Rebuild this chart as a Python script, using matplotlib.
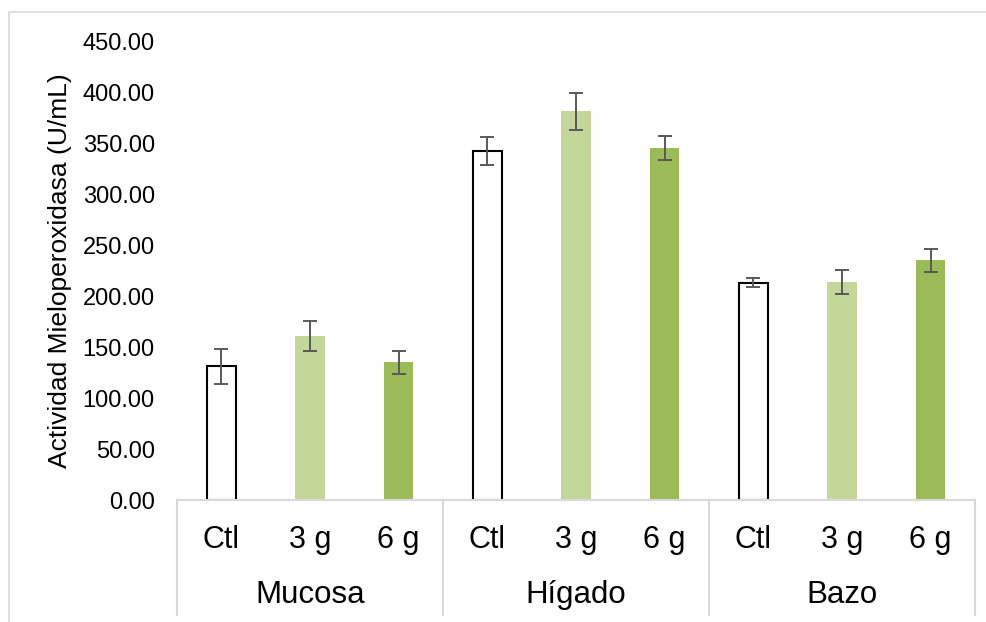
import matplotlib
matplotlib.use("Agg")
import matplotlib.pyplot as plt
from matplotlib.lines import Line2D
from matplotlib.patches import Rectangle

# data
groups = ["Mucosa", "Hígado", "Bazo"]
doses = ["Ctl", "3 g", "6 g"]
mucosa = [131.0, 161.0, 135.0]
higado = [342.0, 381.0, 345.0]
bazo = [213.0, 214.0, 235.0]
mucosa_err = [17.0, 14.5, 11.0]
higado_err = [13.5, 18.0, 11.5]
bazo_err = [4.5, 12.0, 11.0]
yticks = [0, 50, 100, 150, 200, 250, 300, 350, 400, 450]

plt.rcParams['font.family'] = ['Liberation Sans', 'DejaVu Sans']

fig = plt.figure(figsize=(9.86, 6.22), dpi=100)
ax = fig.add_axes([0.1795, 0.1961, 0.8093, 0.7379])

values = mucosa + higado + bazo
errors = mucosa_err + higado_err + bazo_err
x = list(range(len(values)))

fills = ["white", "#C4D79B", "#9BBB59"] * 3
edges = ["black", "#C4D79B", "#9BBB59"] * 3
lws = [1.5, 0, 0] * 3

ax.bar(x, values, width=0.33, color=fills, edgecolor=edges, linewidth=lws, zorder=2)
ax.errorbar(x, values, yerr=errors, fmt="none", ecolor="#595959",
            elinewidth=1.4, capsize=4.8, capthick=1.4, zorder=3)

ax.set_xlim(-0.5, len(values) - 0.5)
ax.set_ylim(0, 450)
ax.set_yticks(yticks)
ax.set_yticklabels([f"{v:.2f}" for v in yticks], fontsize=17)
ax.tick_params(axis="y", length=0, pad=16)
ax.set_xticks([])
for s in ["top", "right", "left"]:
    ax.spines[s].set_visible(False)
ax.spines["bottom"].set_color("#D9D9D9")
ax.spines["bottom"].set_linewidth(1.5)

ax.set_ylabel("Actividad Mieloperoxidasa (U/mL)", fontsize=19, labelpad=8)

# two-level category axis
trans = ax.get_xaxis_transform()
for i, d in enumerate(doses * 3):
    ax.text(i, -0.088, d, transform=trans, ha="center", va="center", fontsize=22)
for g, name in enumerate(groups):
    ax.text(g * 3 + 1, -0.207, name, transform=trans, ha="center", va="center", fontsize=22.5)
for b in [-0.5, 2.5, 5.5, 8.5]:
    ax.add_line(Line2D([b, b], [0, -0.25], transform=trans, color="#D9D9D9",
                       linewidth=1.5, clip_on=False))

# outer chart frame
fig.patches.append(Rectangle((9 / 986, -0.1), 1.2, 1.1 - 11.5 / 622, transform=fig.transFigure,
                             fill=False, edgecolor="#D9D9D9", linewidth=1.2))

fig.savefig("out.png", dpi=100)
